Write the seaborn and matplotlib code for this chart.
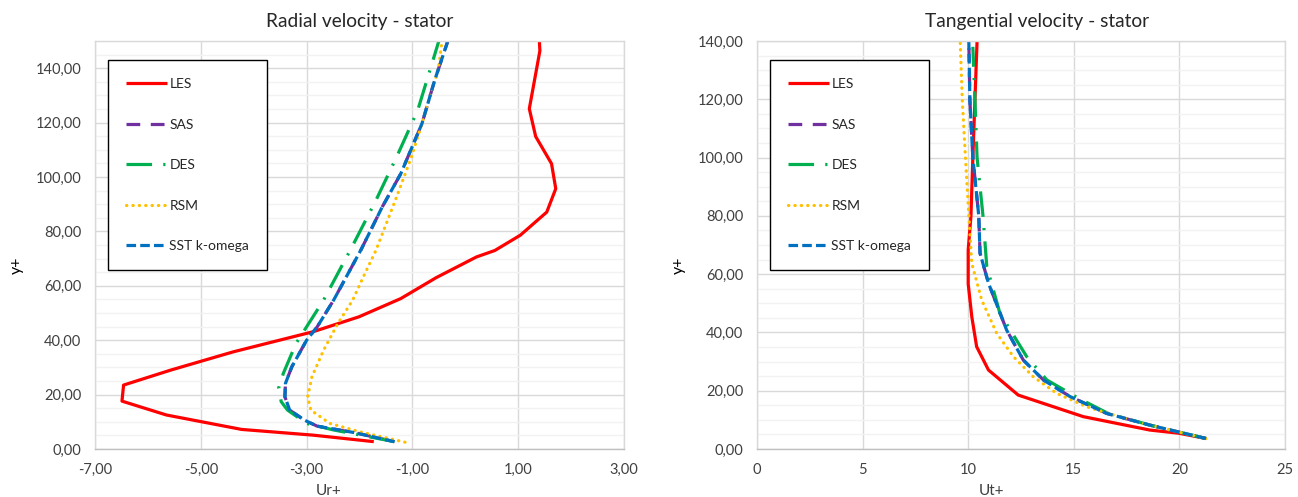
import numpy as np
import pandas as pd
import seaborn as sns
import matplotlib
matplotlib.use("Agg")
import matplotlib.pyplot as plt
from matplotlib.ticker import FixedLocator, MultipleLocator, FuncFormatter

# ---------------- Data: Radial velocity (Ur+ vs y+) ----------------
les_r_x = [-1.73, -2.88, -4.23, -5.65, -6.49, -6.46, -5.57, -4.39, -2.88, -2.01, -1.22, -0.55, 0.21, 0.56, 1.04, 1.54, 1.71, 1.63, 1.33, 1.21, 1.41, 1.40]
les_r_y = [2.7, 5.1, 7.2, 12.5, 17.6, 23.5, 29.0, 35.7, 43.1, 48.6, 55.3, 63.0, 70.6, 73.0, 78.6, 87.1, 95.7, 104.9, 114.9, 125.1, 146.4, 150.0]

sas_r_x = [-1.34, -2.09, -2.80, -3.04, -3.32, -3.41, -3.40, -3.28, -3.00, -2.80, -2.49, -1.97, -1.57, -1.22, -0.82, -0.58, -0.33]
sas_r_y = [2.7, 6.0, 8.4, 10.6, 14.3, 19.2, 24.1, 30.2, 40.0, 44.9, 54.7, 73.3, 89.0, 101.2, 119.6, 135.5, 150.0]

des_r_x = [-1.34, -2.49, -3.00, -3.36, -3.48, -3.53, -3.44, -3.20, -3.04, -2.68, -2.15, -1.69, -1.30, -0.90, -0.50]
des_r_y = [2.7, 7.0, 9.4, 14.3, 17.4, 22.3, 27.8, 38.8, 43.7, 54.7, 74.0, 91.4, 107.3, 124.5, 150.0]

rsm_r_x = [-1.14, -2.01, -2.56, -2.92, -2.98, -2.90, -2.68, -2.41, -2.13, -1.93, -1.69, -1.30, -1.02, -0.82, -0.51, -0.44]
rsm_r_y = [2.5, 6.4, 9.4, 14.3, 19.2, 26.5, 36.3, 46.1, 54.7, 63.2, 73.0, 92.6, 107.3, 119.6, 139.6, 150.0]

sst_r_x = [-1.34, -2.09, -2.80, -3.04, -3.32, -3.41, -3.40, -3.28, -3.00, -2.80, -2.49, -1.97, -1.57, -1.22, -0.82, -0.58, -0.33]
sst_r_y = [2.7, 6.0, 8.4, 10.6, 14.3, 19.2, 24.1, 30.2, 40.0, 44.9, 54.7, 73.3, 89.0, 101.2, 119.6, 135.5, 150.0]

# ---------------- Data: Tangential velocity (Ut+ vs y+) ----------------
les_t_x = [21.26, 19.98, 18.60, 15.45, 12.37, 10.96, 10.40, 10.17, 10.00, 10.00, 10.13, 10.22, 10.42]
les_t_y = [3.6, 5.4, 6.5, 11.1, 18.5, 27.1, 35.1, 45.4, 56.6, 68.3, 80.0, 100.0, 140.0]

sas_t_x = [21.26, 18.60, 16.56, 14.82, 13.56, 12.61, 11.82, 10.96, 10.56, 10.50, 10.22, 10.08, 10.03]
sas_t_y = [3.6, 8.2, 12.2, 18.0, 23.7, 30.5, 40.8, 56.9, 67.2, 80.0, 100.0, 119.7, 140.0]

des_t_x = [21.26, 18.60, 16.63, 15.25, 13.72, 12.77, 11.50, 10.88, 10.70, 10.42, 10.32, 10.22]
des_t_y = [3.6, 8.2, 12.2, 17.3, 23.7, 31.7, 46.6, 62.6, 80.0, 100.0, 119.7, 138.0]

rsm_t_x = [21.26, 18.60, 16.63, 15.61, 14.19, 13.08, 12.14, 11.35, 10.64, 10.17, 10.03, 9.87, 9.72, 9.62]
rsm_t_y = [3.6, 8.2, 12.2, 14.5, 19.1, 24.8, 31.7, 39.7, 51.1, 63.7, 80.0, 100.0, 119.7, 140.0]

sst_t_x = [21.26, 18.60, 16.56, 14.82, 13.56, 12.61, 11.82, 10.96, 10.56, 10.50, 10.22, 10.08, 10.03]
sst_t_y = [3.6, 8.2, 12.2, 18.0, 23.7, 30.5, 40.8, 56.9, 67.2, 80.0, 100.0, 119.7, 140.0]

series_names = ["LES", "SAS", "DES", "RSM", "SST k-omega"]
radial = [(les_r_x, les_r_y), (sas_r_x, sas_r_y), (des_r_x, des_r_y), (rsm_r_x, rsm_r_y), (sst_r_x, sst_r_y)]
tangential = [(les_t_x, les_t_y), (sas_t_x, sas_t_y), (des_t_x, des_t_y), (rsm_t_x, rsm_t_y), (sst_t_x, sst_t_y)]

colors = {"LES": "#FF0000", "SAS": "#7030A0", "DES": "#00B050", "RSM": "#FFC000", "SST k-omega": "#0070C0"}
styles = {
    "LES": "-",
    "SAS": (0, (4.3, 3.3)),
    "DES": (0, (8, 3.5, 0.7, 3.5)),
    "RSM": (0, (0.1, 1.9)),
    "SST k-omega": (0, (3.0, 1.3)),
}

sns.set_theme(style="white")
plt.rcParams["font.family"] = ["Lato", "DejaVu Sans"]
TXT = "#404040"

fig = plt.figure(figsize=(12.98, 4.97), dpi=100)
ax1 = fig.add_axes([95 / 1298, 1 - 449 / 497, 529 / 1298, 408 / 497])
ax2 = fig.add_axes([757 / 1298, 1 - 449 / 497, 528 / 1298, 408 / 497])


def comma(fmt):
    return FuncFormatter(lambda v, p: (fmt % v).replace(".", ","))


def draw(ax, data):
    for name, (xs, ys) in zip(series_names, data):
        df = pd.DataFrame({"u": xs, "y": ys})
        sns.lineplot(data=df, x="u", y="y", sort=False, estimator=None, ax=ax,
                     color=colors[name], linewidth=2.3, label=name)
        ln = ax.lines[-1]
        ln.set_linestyle(styles[name])
        if name == "RSM":
            ln.set_dash_capstyle("round")
        else:
            ln.set_dash_capstyle("butt")
        ln.set_solid_capstyle("butt")


draw(ax1, radial)
draw(ax2, tangential)

for ax in (ax1, ax2):
    ax.yaxis.set_minor_locator(MultipleLocator(5))
    ax.grid(True, which="major", color="#D9D9D9", linewidth=1.0)
    ax.grid(True, which="minor", axis="y", color="#F2F2F2", linewidth=1.0)
    ax.set_axisbelow(True)
    for s in ("left", "top", "right"):
        ax.spines[s].set_color("#D9D9D9")
        ax.spines[s].set_linewidth(1.0)
    ax.spines["bottom"].set_color("#BFBFBF")
    ax.spines["bottom"].set_linewidth(1.0)
    ax.tick_params(which="both", length=0, labelsize=10.5, labelcolor=TXT, pad=10)
    ax.yaxis.set_major_formatter(comma("%.2f"))
    ax.set_ylabel("y+", fontsize=11.5, color="black")
    ax.yaxis.set_label_coords(-0.135, 0.45)
    leg = ax.legend(loc="upper left", bbox_to_anchor=(0.025, 0.953), borderaxespad=0,
                    fontsize=10, labelspacing=2.05, handlelength=2.9, handletextpad=0.2,
                    borderpad=1.3, fancybox=False, framealpha=1, edgecolor="black")
    leg.get_frame().set_linewidth(1.0)
    for t in leg.get_texts():
        t.set_color("#262626")

ax1.set_xlim(-7, 3)
ax1.set_ylim(0, 150)
ax1.xaxis.set_major_locator(FixedLocator([-7, -5, -3, -1, 1, 3]))
ax1.yaxis.set_major_locator(FixedLocator([0, 20, 40, 60, 80, 100, 120, 140]))
ax1.xaxis.set_major_formatter(comma("%.2f"))
ax1.set_xlabel("Ur+", fontsize=11, color=TXT)
ax1.xaxis.set_label_coords(0.442, -0.085)
ax1.set_title("Radial velocity - stator", fontsize=13.8, color="#262626", pad=10)

ax2.set_xlim(0, 25)
ax2.set_ylim(0, 140)
ax2.xaxis.set_major_locator(FixedLocator([0, 5, 10, 15, 20, 25]))
ax2.yaxis.set_major_locator(FixedLocator([0, 20, 40, 60, 80, 100, 120, 140]))
ax2.xaxis.set_major_formatter(FuncFormatter(lambda v, p: "%d" % v))
ax2.set_xlabel("Ut+", fontsize=11, color=TXT)
ax2.xaxis.set_label_coords(0.445, -0.085)
ax2.set_title("Tangential velocity - stator", fontsize=13.8, color="#262626", pad=10, x=0.53)

fig.savefig("out.png", dpi=100)
